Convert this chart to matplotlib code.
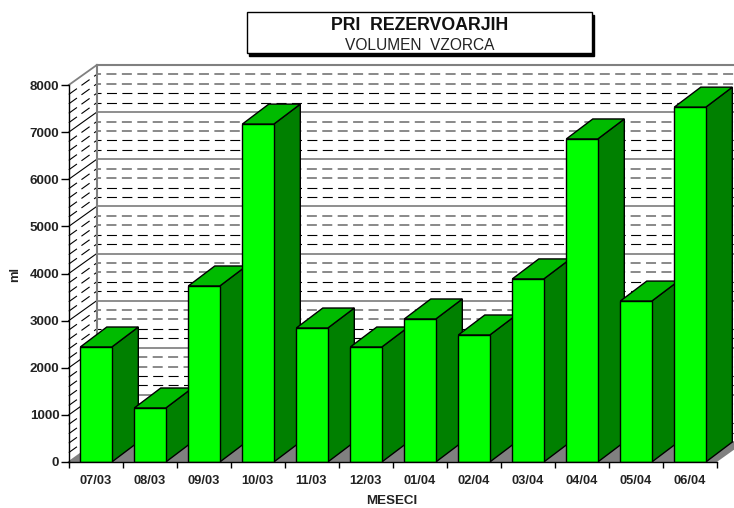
import matplotlib
matplotlib.use('Agg')
import matplotlib.pyplot as plt
from matplotlib.patches import Polygon, Rectangle

months = ['07/03', '08/03', '09/03', '10/03', '11/03', '12/03',
          '01/04', '02/04', '03/04', '04/04', '05/04', '06/04']
volumes = [2440, 1146, 3735, 7170, 2843, 2440, 3035, 2695, 3885, 6855, 3415, 7530]
y_ticks = [0, 1000, 2000, 3000, 4000, 5000, 6000, 7000, 8000]
title_1 = 'PRI  REZERVOARJIH'
title_2 = 'VOLUMEN  VZORCA'

plt.rcParams['font.family'] = ['Liberation Sans', 'DejaVu Sans']
plt.rcParams['lines.scale_dashes'] = False

W, H = 734, 508
fig = plt.figure(figsize=(W / 100, H / 100), dpi=100)
# axes = the front plane of the 3d box
ax = fig.add_axes([68.8 / W, 1 - 462 / H, 648 / W, 377 / H])
ax.set_xlim(0, 12)
ax.set_ylim(0, 8000)

# depth of the box and of the bars in data units
wall_dx = 28 / 54
wall_dy = 20 / 377 * 8000
bar_dx = 26.5 / 54
bar_dy = 20 / 377 * 8000
bar_w = 31.5 / 54
bar_off = 11.5 / 54

# floor
ax.add_patch(Polygon([(0, 0), (12, 0), (12 + wall_dx, wall_dy), (wall_dx, wall_dy)],
                     fc='#808080', ec='none', clip_on=False, zorder=1))

# back wall grid
x0, x1 = wall_dx, 12 + wall_dx
dash = (4.3, (7.2, 3.9))
for v in range(0, 8000, 200):
    y = v + wall_dy
    if v % 1000 == 0:
        ax.plot([x0, x1], [y, y], color='#707070', lw=1.1, clip_on=False, zorder=1.5)
    elif v % 1000 >= 600:
        ax.plot([x0, x1], [y, y], color='#808080', lw=1.3, ls=dash, clip_on=False, zorder=1.5)
    else:
        ax.plot([x0, x1], [y, y], color='black', lw=0.8, ls=dash, clip_on=False, zorder=1.5)
ax.plot([x0, x1], [8000 + wall_dy] * 2, color='#808080', lw=1.5, clip_on=False, zorder=1.5)
ax.plot([x0, x0], [wall_dy, 8000 + wall_dy], color='#808080', lw=1.5, clip_on=False, zorder=1.5)

# left wall grid
for v in range(0, 8001, 200):
    if v == 8000 or v == 0:
        ax.plot([0, wall_dx], [v, v + wall_dy], color='#808080', lw=1.3, clip_on=False, zorder=1.4)
    elif v % 1000 == 0:
        ax.plot([0, wall_dx], [v, v + wall_dy], color='black', lw=0.8, clip_on=False, zorder=1.4)
    else:
        ax.plot([0, wall_dx], [v, v + wall_dy], color='black', lw=0.8,
                ls=(0, (7.2, 4.0)), clip_on=False, zorder=1.4)

# bars, left to right so each one covers the side of the previous
for i, v in enumerate(volumes):
    left = i + bar_off
    right = left + bar_w
    z = 2 + i * 0.1
    ax.add_patch(Polygon([(right, 0), (right + bar_dx, bar_dy), (right + bar_dx, v + bar_dy), (right, v)],
                         fc='#008000', ec='black', lw=1.0, clip_on=False, zorder=z))
    ax.add_patch(Polygon([(left, v), (right, v), (right + bar_dx, v + bar_dy), (left + bar_dx, v + bar_dy)],
                         fc='#00BB00', ec='black', lw=1.0, clip_on=False, zorder=z))
    ax.bar(left, v, width=bar_w, align='edge', color='#00FF00', edgecolor='black', lw=1.0, zorder=z + 0.01)

ax.patch.set_visible(False)
for s in ['top', 'right']:
    ax.spines[s].set_visible(False)
for s in ['left', 'bottom']:
    ax.spines[s].set_linewidth(1.0)
    ax.spines[s].set_zorder(5)

ax.set_yticks(y_ticks)
ax.set_xticks(range(13))
ax.set_xticklabels([])
ax.tick_params(axis='y', length=5.8, width=1.0, labelsize=9.6, pad=1.0)
ax.tick_params(axis='x', length=4.3, width=1.0)
for lab in ax.get_yticklabels():
    lab.set_fontweight('bold')
    lab.set_color('#222222')
for i, m in enumerate(months):
    ax.annotate(m, (i + 0.5, 0), xytext=(-0.5, -18.5), textcoords='offset pixels',
                ha='center', va='center', fontsize=9.3, fontweight='bold', color='#222222',
                annotation_clip=False)

fig.text(15 / W, 1 - 275 / H, 'ml', rotation=90, ha='center', va='center',
         fontsize=9.4, fontweight='bold', color='#222222')
fig.text(391.5 / W, 1 - 501 / H, 'MESECI', ha='center', va='center',
         fontsize=9.6, fontweight='bold', color='#222222')

# title box with shadow
fig.add_artist(Rectangle((249 / W, 1 - 56 / H), 345 / W, 41 / H, fc='black', ec='black',
                         lw=1, transform=fig.transFigure))
fig.add_artist(Rectangle((246.5 / W, 1 - 53 / H), 345 / W, 41 / H, fc='white', ec='black',
                         lw=1, transform=fig.transFigure))
fig.text(419.5 / W, 1 - 25 / H, title_1, ha='center', va='center',
         fontsize=12.8, fontweight='bold', color='#111111')
fig.text(419.5 / W, 1 - 45 / H, title_2, ha='center', va='center',
         fontsize=11.2, color='#222222')

fig.savefig('out.png', dpi=100)
